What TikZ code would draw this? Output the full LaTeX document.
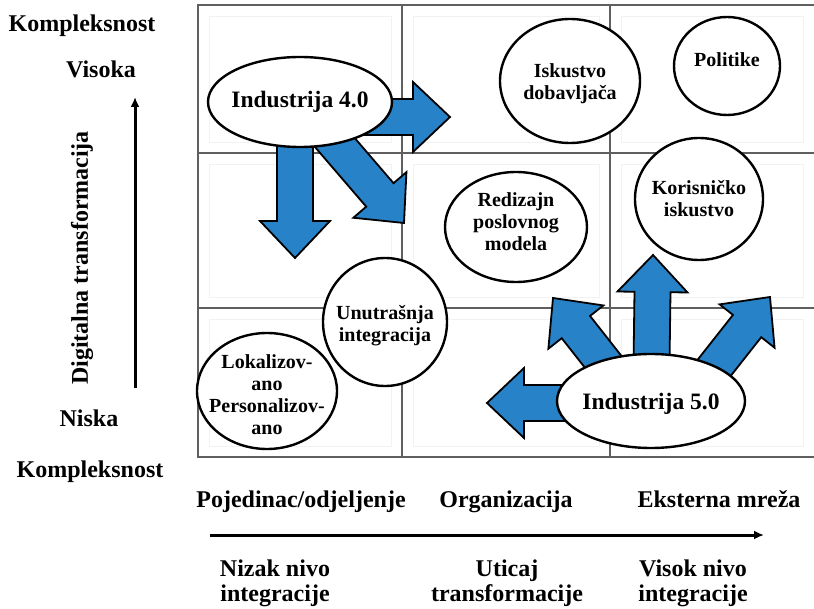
\documentclass[tikz,border=0pt]{standalone}
\usepackage{fontspec}
\setmainfont{Liberation Serif}
\usetikzlibrary{calc,arrows.meta,backgrounds,shapes.geometric}

\definecolor{flowblue}{RGB}{40,130,200}
\definecolor{gridgray}{RGB}{95,95,95}

\newlength{\shaftw}\setlength{\shaftw}{18pt}
\newlength{\headw}\setlength{\headw}{35pt}
\newlength{\headlen}\setlength{\headlen}{37pt}

% block arrow: #1 name prefix, #2 start coordinate, #3 tip coordinate
\newcommand{\blockarrow}[3]{%
  \coordinate (#1-b) at ($(#3)!\headlen!(#2)$);
  \filldraw[blockarrowstyle]
    ($(#2)!\shaftw!90:(#3)$) -- ($(#1-b)!\shaftw!90:(#3)$) --
    ($(#1-b)!\headw!90:(#3)$) -- (#3) --
    ($(#1-b)!\headw!-90:(#3)$) -- ($(#1-b)!\shaftw!-90:(#3)$) --
    ($(#2)!\shaftw!-90:(#3)$) -- cycle;
}

\tikzset{
  blockarrowstyle/.style={fill=flowblue, draw=black, line width=1.8pt, line join=miter},
  bubble/.style={ellipse, draw=black, line width=2.4pt, fill=white, inner sep=0pt},
  lbl/.style={font=\bfseries\fontsize{20}{22}\selectfont, align=center, inner sep=0pt},
  biglbl/.style={font=\bfseries\fontsize{23.5}{26}\selectfont, align=center, inner sep=0pt},
  axislbl/.style={font=\bfseries\fontsize{24}{25}\selectfont, align=center, inner sep=0pt},
  gridline/.style={draw=gridgray, line width=1.6pt},
  faintline/.style={draw=gray!10, line width=0.8pt},
  axisarrow/.style={line width=3pt, -{Latex[length=10pt,width=9pt]}},
}

\begin{document}
\begin{tikzpicture}[x=1pt,y=-1pt]
\useasboundingbox (0,0) rectangle (814,609);

% ---- page background and grid of the 3x3 matrix ----
\begin{pgfonlayer}{background}
  \fill[white] (0,0) rectangle (814,609);
  \foreach \xa/\xb in {198/402,402/610,610/814}
    \foreach \ya/\yb in {5/153,153/308,308/457}
      \draw[faintline] (\xa+11,\ya+11) rectangle (\xb-11,\yb-11);
  \draw[gridline] (814,5) -- (198,5) -- (198,457) -- (814,457);
  \draw[gridline] (402,5) -- (402,457);
  \draw[gridline] (610,5) -- (610,457);
  \draw[gridline] (198,153) -- (814,153);
  \draw[gridline] (198,308) -- (814,308);
\end{pgfonlayer}

% ---- bubbles ----
\node[bubble, minimum width=184pt, minimum height=90pt]  (i4)  at (300,102) {};
\node[bubble, minimum width=140pt, minimum height=124pt] (isk) at (570,81) {};
\node[bubble, minimum width=106pt, minimum height=98pt]  (pol) at (727,66) {};
\node[bubble, minimum width=142pt, minimum height=110pt] (red) at (516,227) {};
\node[bubble, minimum width=128pt, minimum height=122pt] (kor) at (699,199) {};
\node[bubble, minimum width=124pt, minimum height=128pt] (unu) at (385,322) {};
\node[bubble, minimum width=140pt, minimum height=116pt] (lok) at (267,391) {};
\node[bubble, minimum width=188pt, minimum height=94pt]  (i5)  at (651,401) {};

\node[biglbl] (i4t)  at (300,102) {Industrija 4.0};
\node[lbl]    (iskt) at (570,84)  {Iskustvo\\dobavljača};
\node[lbl]    (polt) at (727,60)  {Politike};
\node[lbl]    (redt) at (516,222) {Redizajn\\poslovnog\\modela};
\node[lbl]    (kort) at (699,199) {Korisničko\\iskustvo};
\node[lbl]    (unut) at (385,326) {Unutrašnja\\integracija};
\node[lbl]    (lokt) at (267,395) {Lokalizov-\\ano\\Personalizov-\\ano};
\node[biglbl] (i5t)  at (651,404) {Industrija 5.0};

% ---- block arrows (behind the bubbles) ----
\coordinate (i4r)  at ($(i4.center)+(0,15)$);
\coordinate (i4d)  at ($(i4.center)+(-5,0)$);
\coordinate (t4r)  at (450,117);
\coordinate (t4d)  at (295,258);
\coordinate (t4dr) at (404,223);
\coordinate (i5l)  at ($(i5.center)+(0,2)$);
\coordinate (i5ul) at ($(i5.center)+(-17,0)$);
\coordinate (i5ur) at ($(i5.center)+(37,0)$);
\coordinate (t5l)  at (487,403);
\coordinate (t5u)  at (653,255);
\coordinate (t5ul) at (553,298);
\coordinate (t5ur) at (770,297);
\begin{pgfonlayer}{background}
  \blockarrow{a1}{i4r}{t4r}
  \blockarrow{a2}{i4d}{t4d}
  \blockarrow{a3}{i4.center}{t4dr}
  \blockarrow{a4}{i5l}{t5l}
  \blockarrow{a5}{i5.center}{t5u}
  \blockarrow{a6}{i5ul}{t5ul}
  \blockarrow{a7}{i5ur}{t5ur}
\end{pgfonlayer}

% ---- vertical axis ----
\node[axislbl, anchor=base] (kt)  at (82,32)  {Kompleksnost};
\node[axislbl, anchor=base] (vis) at (101,78) {Visoka};
\node[axislbl, rotate=90] (dig) at (82,258) {Digitalna transformacija};
\node[axislbl, anchor=base] (nis) at (89,427) {Niska};
\node[axislbl, anchor=base] (kb)  at (90,477) {Kompleksnost};
\coordinate (vbot) at (135,388);
\coordinate (vtop) at (135,97);
\draw[axisarrow] (vbot) -- (vtop);

% ---- horizontal axis ----
\node[axislbl, anchor=base] (poj) at (301,507) {Pojedinac/odjeljenje};
\node[axislbl, anchor=base] (org) at (506,507) {Organizacija};
\node[axislbl, anchor=base] (eks) at (719,507) {Eksterna mreža};
\coordinate (hl) at (210,535);
\coordinate (hr) at (764,535);
\draw[axisarrow] (hl) -- (hr);
\node[axislbl] (niz) at (275,583) {Nizak nivo\\integracije};
\node[axislbl] (uti) at (507,583) {Uticaj\\transformacije};
\node[axislbl] (vnv) at (693,583) {Visok nivo\\integracije};
\end{tikzpicture}
\end{document}
